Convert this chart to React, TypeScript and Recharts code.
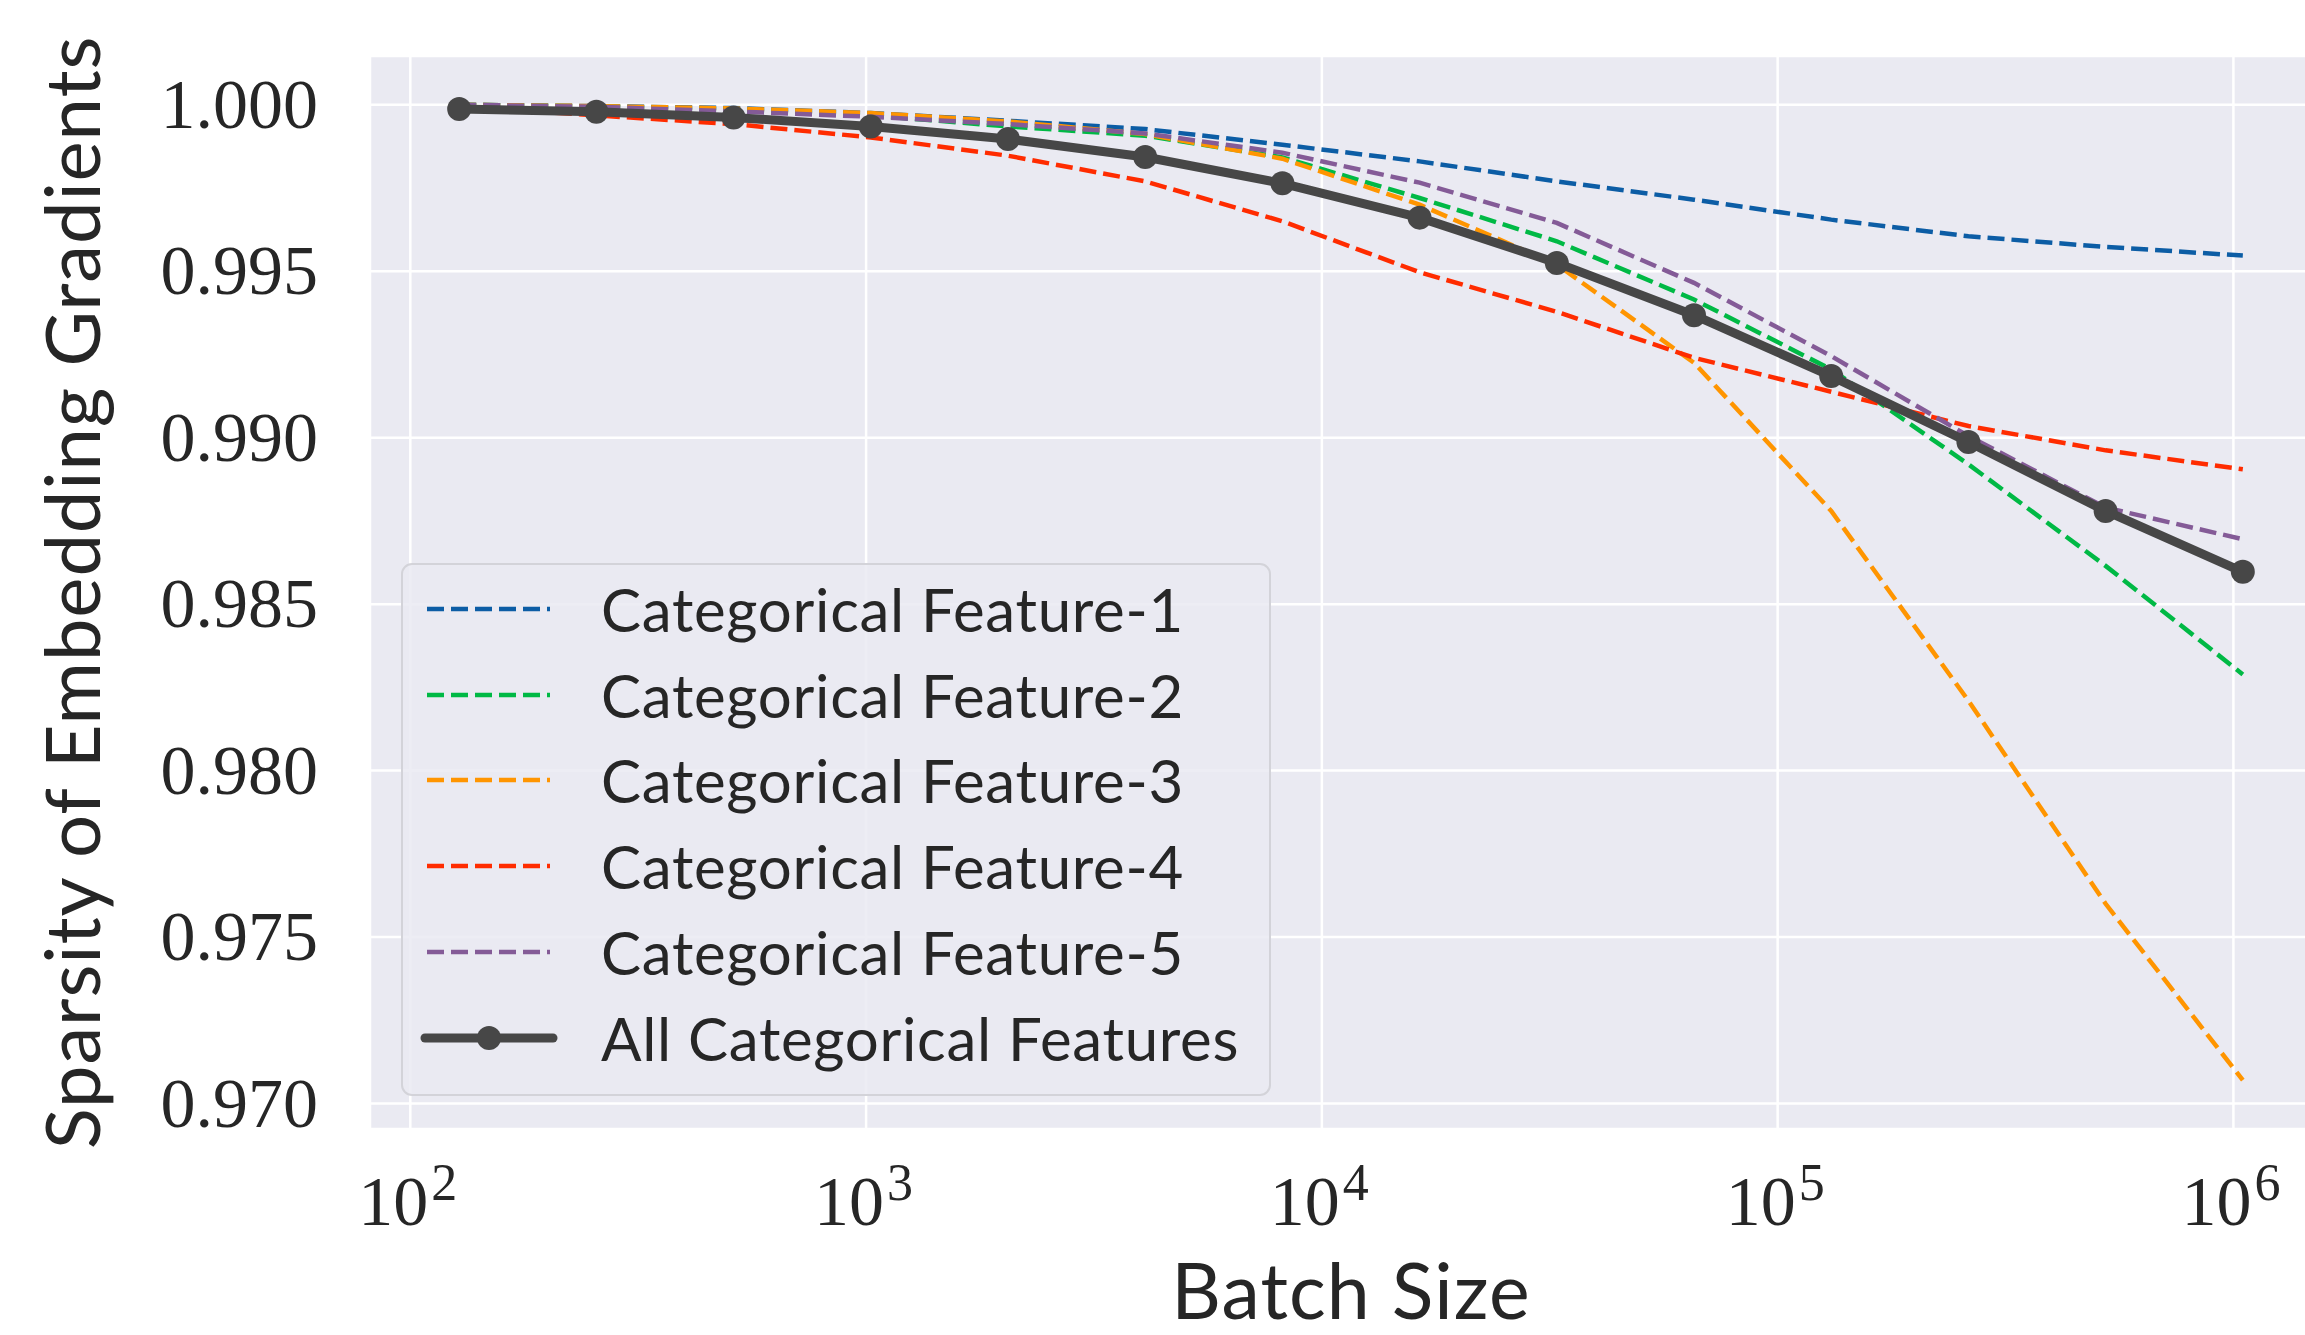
import React from "react"
import { LineChart, Line, XAxis, YAxis, CartesianGrid } from "recharts"

// batch sizes 2^7 .. 2^20
const batchSizes = [128, 256, 512, 1024, 2048, 4096, 8192, 16384, 32768, 65536, 131072, 262144, 524288, 1048576]

const feature1 = [1.0, 0.99996, 0.9999, 0.99975, 0.99952, 0.99927, 0.9988, 0.9983, 0.9977, 0.99715, 0.99655, 0.99605, 0.99573, 0.99547]
const feature2 = [1.0, 0.99995, 0.99985, 0.99968, 0.99935, 0.99907, 0.99842, 0.9972, 0.9959, 0.99415, 0.99205, 0.9892, 0.98615, 0.98289]
const feature3 = [1.0, 0.99996, 0.99989, 0.99975, 0.9995, 0.99912, 0.99838, 0.997, 0.9952, 0.99225, 0.9878, 0.9821, 0.976, 0.9707]
const feature4 = [0.99995, 0.99968, 0.99942, 0.99902, 0.99847, 0.9977, 0.9965, 0.99497, 0.99378, 0.9924, 0.99138, 0.99035, 0.98962, 0.98905]
const feature5 = [1.0, 0.99994, 0.9998, 0.99964, 0.99942, 0.99914, 0.99856, 0.99766, 0.99645, 0.99465, 0.99245, 0.99005, 0.9879, 0.98695]
const allFeatures = [0.99987, 0.99979, 0.99962, 0.99935, 0.99897, 0.99843, 0.99764, 0.99661, 0.99525, 0.99368, 0.99185, 0.98987, 0.9878, 0.98597]

const xTicks = [1e2, 1e3, 1e4, 1e5, 1e6]
const yTicks = [0.97, 0.975, 0.98, 0.985, 0.99, 0.995, 1.0]

const series = [
  { key: "f1", name: "Categorical Feature-1", color: "#0C5DA5", values: feature1 },
  { key: "f2", name: "Categorical Feature-2", color: "#00B945", values: feature2 },
  { key: "f3", name: "Categorical Feature-3", color: "#FF9500", values: feature3 },
  { key: "f4", name: "Categorical Feature-4", color: "#FF2C00", values: feature4 },
  { key: "f5", name: "Categorical Feature-5", color: "#845B97", values: feature5 },
]
const allSeries = { key: "all", name: "All Categorical Features", color: "#474747", values: allFeatures }

const data = batchSizes.map((b, i) => {
  const row: any = { batch: b, all: allFeatures[i] }
  series.forEach((s) => (row[s.key] = s.values[i]))
  return row
})

// matplotlib-like 5% autoscale margins
const logLo = Math.log10(batchSizes[0])
const logHi = Math.log10(batchSizes[batchSizes.length - 1])
const logPad = (logHi - logLo) * 0.05
const xDomain = [Math.pow(10, logLo - logPad), Math.pow(10, logHi + logPad)]

const allVals = [...series.flatMap((s) => s.values), ...allFeatures]
const yLo = Math.min(...allVals)
const yHi = Math.max(...allVals)
const yPad = (yHi - yLo) * 0.05
const yDomain = [yLo - yPad, yHi + yPad]

const TEXT = "#262626"
const SERIF = "'Liberation Serif', 'DejaVu Serif', serif"
const SANS = "Lato, 'Open Sans', sans-serif"
const DASH = "17 7"

const XTick = ({ x, y, payload }: any) => {
  const exp = Math.round(Math.log10(payload.value))
  return (
    <g>
      <text x={x - 52} y={y + 96} fontFamily={SERIF} fontSize={70} fill={TEXT}>
        10
      </text>
      <text x={x + 21} y={y + 71} fontFamily={SERIF} fontSize={52} fill={TEXT}>
        {exp}
      </text>
    </g>
  )
}

const YTick = ({ x, y, payload }: any) => (
  <text x={x - 52} y={y} dy={23} textAnchor="end" fontFamily={SERIF} fontSize={70} fill={TEXT}>
    {payload.value.toFixed(3)}
  </text>
)

const XTitle = ({ viewBox }: any) => (
  <text
    x={viewBox.x + viewBox.width / 2}
    y={viewBox.y + 190}
    textAnchor="middle"
    fontFamily={SANS}
    fontSize={77}
    letterSpacing={1.1}
    fill={TEXT}
  >
    Batch Size
  </text>
)

const YTitle = ({ viewBox }: any) => {
  const cx = viewBox.x + 100
  const cy = viewBox.y + viewBox.height / 2
  return (
    <text
      x={cx}
      y={cy}
      transform={`rotate(-90 ${cx} ${cy})`}
      textAnchor="middle"
      fontFamily={SANS}
      fontSize={76}
      letterSpacing={0.9}
      fill={TEXT}
    >
      Sparsity of Embedding Gradients
    </text>
  )
}

const LegendBox = () => {
  const rows = [...series, allSeries]
  return (
    <div
      style={{
        position: "absolute",
        left: 401,
        top: 563,
        width: 866,
        height: 529,
        border: "2.5px solid #d3d3d9",
        borderRadius: 11,
        background: "rgba(234,234,242,0.85)",
      }}
    >
      {rows.map((r, i) => {
        const isAll = r.key === "all"
        return (
          <div
            key={r.key}
            style={{
              position: "absolute",
              left: 0,
              top: 44 + i * 85.7 - 40,
              height: 80,
              display: "flex",
              alignItems: "center",
            }}
          >
            <svg width={140} height={80} style={{ marginLeft: 16 }}>
              {isAll ? (
                <>
                  <line x1={6} y1={40} x2={134} y2={40} stroke={r.color} strokeWidth={9} strokeLinecap="round" />
                  <circle cx={70} cy={40} r={12} fill={r.color} />
                </>
              ) : (
                <line x1={8} y1={40} x2={131} y2={40} stroke={r.color} strokeWidth={4.5} strokeDasharray={DASH} />
              )}
            </svg>
            <span
              style={{
                marginLeft: 42,
                fontFamily: SANS,
                fontSize: 60,
                letterSpacing: 0.7,
                color: TEXT,
                lineHeight: "80px",
                whiteSpace: "nowrap",
              }}
            >
              {r.name}
            </span>
          </div>
        )
      })}
    </div>
  )
}

export default function App() {
  return (
    <div style={{ position: "absolute", left: 0, top: 0, width: 2305, height: 1335, overflow: "hidden", background: "#fff" }}>
      <LineChart width={2332} height={1335} data={data} margin={{ top: 56, right: 0, bottom: 0, left: 0 }}>
        <CartesianGrid fill="#EAEAF2" stroke="#ffffff" strokeWidth={2.5} />
        <XAxis
          dataKey="batch"
          type="number"
          scale="log"
          domain={xDomain}
          allowDataOverflow
          ticks={xTicks}
          height={206}
          axisLine={false}
          tickLine={false}
          tickSize={0}
          tickMargin={0}
          tick={<XTick />}
          label={<XTitle />}
        />
        <YAxis
          type="number"
          domain={yDomain}
          allowDataOverflow
          ticks={yTicks}
          width={370}
          axisLine={false}
          tickLine={false}
          tickSize={0}
          tickMargin={0}
          tick={<YTick />}
          label={<YTitle />}
        />
        {series.map((s) => (
          <Line
            key={s.key}
            type="linear"
            dataKey={s.key}
            stroke={s.color}
            strokeWidth={4.5}
            strokeDasharray={DASH}
            dot={false}
            activeDot={false}
            isAnimationActive={false}
          />
        ))}
        <Line
          type="linear"
          dataKey={allSeries.key}
          stroke={allSeries.color}
          strokeWidth={9}
          strokeLinejoin="round"
          dot={{ r: 12, fill: allSeries.color, stroke: allSeries.color, strokeWidth: 0 }}
          activeDot={false}
          isAnimationActive={false}
        />
      </LineChart>
      <LegendBox />
    </div>
  )
}
